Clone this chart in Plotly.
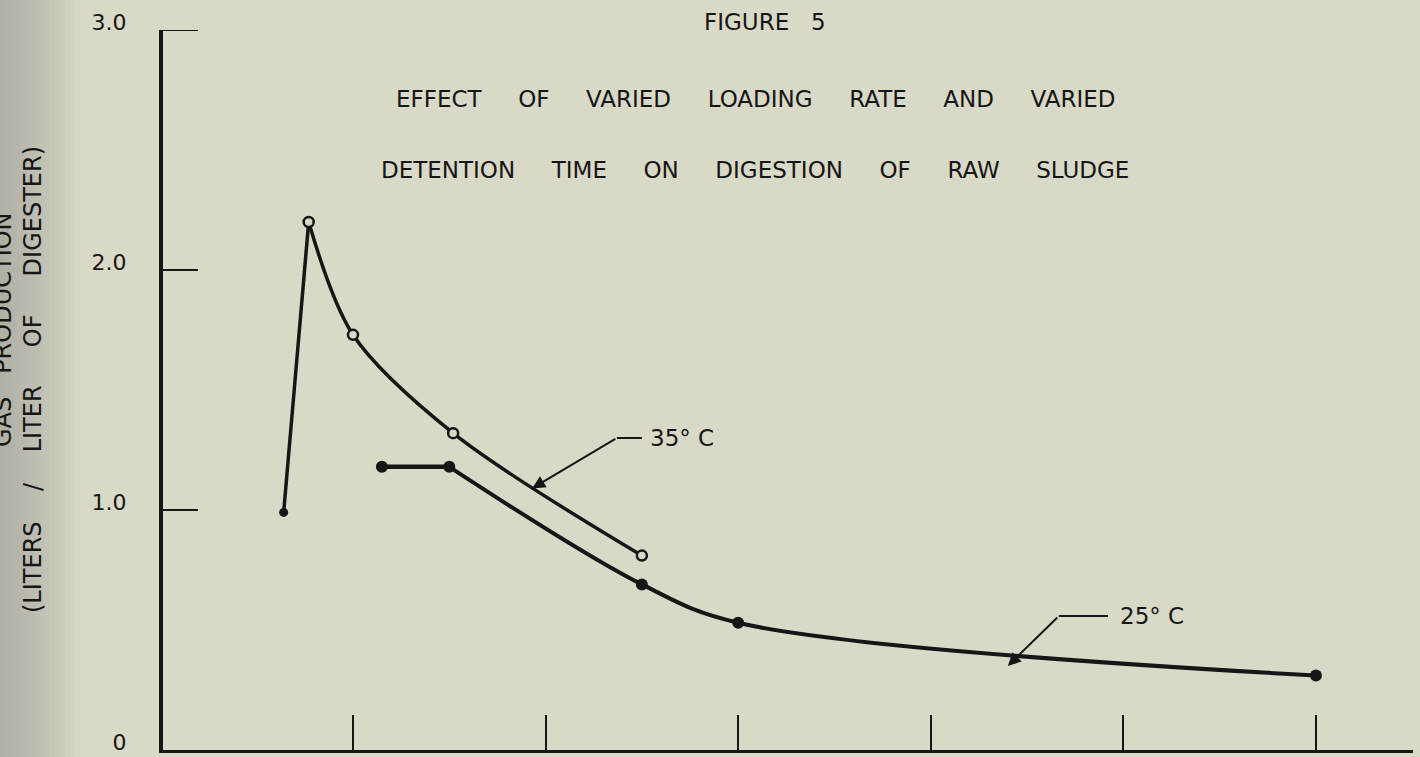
import plotly.graph_objects as go

# ---- data ----
x_35 = [0.64, 0.77, 1.0, 1.52, 2.5]
y_35 = [0.99, 2.2, 1.73, 1.32, 0.81]
x_25 = [1.15, 1.5, 2.5, 3.0, 6.0]
y_25 = [1.18, 1.18, 0.69, 0.53, 0.31]
y_tickvals = [0, 1, 2, 3]
y_ticktext = ["0", "1.0", "2.0", "3.0"]
x_tickvals = [1, 2, 3, 4, 5, 6]
title_lines = ["FIGURE   5",
               "EFFECT     OF     VARIED     LOADING     RATE     AND     VARIED",
               "DETENTION     TIME     ON     DIGESTION     OF     RAW     SLUDGE"]
ytitle_lines = ["GAS   PRODUCTION", "(LITERS    /    LITER     OF     DIGESTER)"]

W, H = 1420, 757
ML, MR, MT, MB = 163, 7, 30, 7
PW, PH = W - ML - MR, H - MT - MB
INK = "#161616"
BG = "#d9d9c7"
FONT = "DejaVu Sans"

def px(xp):
    return (xp - ML) / PW

def py(yp):
    return (H - MB - yp) / PH

fig = go.Figure()

# 35 C: steep rise then smooth decline
fig.add_trace(go.Scatter(x=x_35[:2], y=y_35[:2], mode="lines",
                         line=dict(color=INK, width=3.5), showlegend=False, hoverinfo="skip"))
fig.add_trace(go.Scatter(x=x_35[1:], y=y_35[1:], mode="lines",
                         line=dict(color=INK, width=3.5, shape="spline", smoothing=0.9),
                         showlegend=False, hoverinfo="skip"))
fig.add_trace(go.Scatter(x=x_35[:1], y=y_35[:1], mode="markers",
                         marker=dict(size=9, color=INK), showlegend=False))
fig.add_trace(go.Scatter(x=x_35[1:], y=y_35[1:], mode="markers",
                         marker=dict(size=10, color=BG, line=dict(color=INK, width=2.5)),
                         showlegend=False))

# 25 C: flat start, then smooth decline
fig.add_trace(go.Scatter(x=x_25[:2], y=y_25[:2], mode="lines",
                         line=dict(color=INK, width=4.5), showlegend=False, hoverinfo="skip"))
fig.add_trace(go.Scatter(x=x_25[1:], y=y_25[1:], mode="lines",
                         line=dict(color=INK, width=4, shape="spline", smoothing=1.0),
                         showlegend=False, hoverinfo="skip"))
fig.add_trace(go.Scatter(x=x_25, y=y_25, mode="markers",
                         marker=dict(size=12, color=INK), showlegend=False))

annotations = []
# title block
for txt, xp, yp in zip(title_lines, [765, 755, 755], [22, 99, 170]):
    annotations.append(dict(text=txt, xref="paper", yref="paper", x=px(xp), y=py(yp),
                            xanchor="center", yanchor="middle", showarrow=False,
                            font=dict(family=FONT, size=23, color=INK)))
# y axis title (first line cut by the page edge as in the scan)
annotations.append(dict(text=ytitle_lines[0], xref="paper", yref="paper", x=px(3), y=py(330),
                        xanchor="center", yanchor="middle", textangle=-90, showarrow=False,
                        font=dict(family=FONT, size=24, color=INK)))
annotations.append(dict(text=ytitle_lines[1], xref="paper", yref="paper", x=px(33), y=py(380),
                        xanchor="center", yanchor="middle", textangle=-90, showarrow=False,
                        font=dict(family=FONT, size=24, color=INK)))

# series labels with leader lines
labels = [("35° C", (1.93, 1.09), (2.37, 1.30), 2.5, 2.53),
          ("25° C", (4.40, 0.35), (4.665, 0.558), 4.92, 4.97)]
shapes = []
# darker scan edge on the left
for i in range(16):
    shapes.append(dict(type="rect", xref="paper", yref="paper", layer="below",
                       x0=px(0), x1=px(5 + 5 * i), y0=py(H), y1=py(0),
                       fillcolor="rgba(80,85,70,0.016)", line=dict(width=0)))
# top tick of the y axis (plotly drops inside ticks at the range end)
shapes.append(dict(type="line", xref="paper", yref="y", x0=0, x1=35 / PW,
                   y0=y_tickvals[-1], y1=y_tickvals[-1], line=dict(color=INK, width=2)))
for txt, tip, bend, stub_end, tx in labels:
    annotations.append(dict(text="", x=tip[0], y=tip[1], ax=bend[0], ay=bend[1],
                            xref="x", yref="y", axref="x", ayref="y", showarrow=True,
                            arrowhead=2, arrowsize=1.3, arrowwidth=2, arrowcolor=INK))
    shapes.append(dict(type="line", xref="x", yref="y", x0=bend[0], y0=bend[1],
                       x1=stub_end, y1=bend[1], line=dict(color=INK, width=2)))
    annotations.append(dict(text=txt, x=tx, y=bend[1], xref="x", yref="y",
                            xanchor="left", yanchor="middle", showarrow=False,
                            font=dict(family=FONT, size=23, color=INK)))

fig.update_layout(
    width=W, height=H,
    margin=dict(l=ML, r=MR, t=MT, b=MB, autoexpand=False),
    paper_bgcolor=BG, plot_bgcolor=BG,
    showlegend=False,
    annotations=annotations, shapes=shapes,
    xaxis=dict(range=[0.0135, 6.504], showgrid=False, zeroline=False, automargin=False,
               showline=True, linecolor=INK, linewidth=3,
               tickmode="array", tickvals=x_tickvals, showticklabels=False,
               ticks="inside", ticklen=35, tickwidth=2, tickcolor=INK),
    yaxis=dict(range=[0, 3], showgrid=False, zeroline=False, automargin=False,
               showline=True, linecolor=INK, linewidth=4,
               tickmode="array", tickvals=y_tickvals, ticktext=y_ticktext,
               ticks="inside", ticklen=35, tickwidth=2, tickcolor=INK,
               ticklabelstandoff=28, ticklabelshift=-8,
               tickfont=dict(family=FONT, size=22, color=INK)),
)

fig.write_html("out.html")
